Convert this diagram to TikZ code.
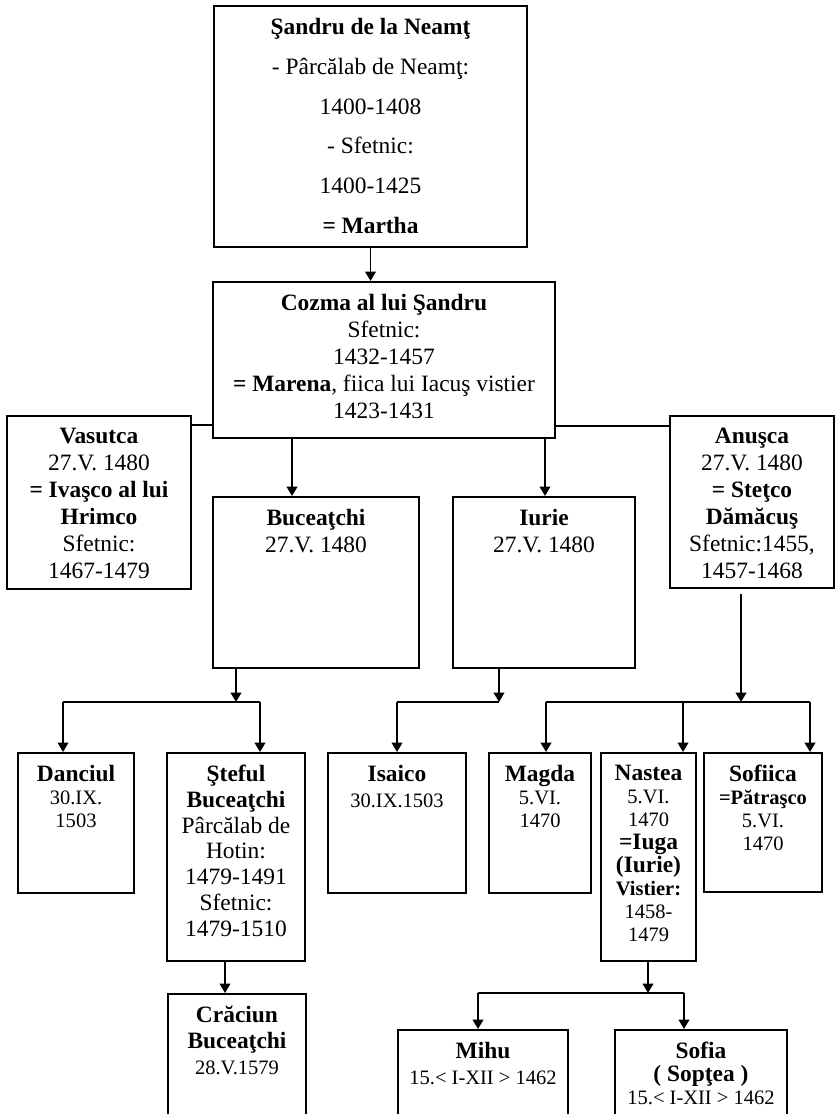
\documentclass[tikz,border=0pt]{standalone}
\usepackage{fontspec}
\setmainfont{Liberation Serif}
\usetikzlibrary{arrows.meta, positioning, fit, calc}
\newcommand{\smtxt}[1]{{\fontsize{17.5}{19}\selectfont #1}}

\begin{document}
\begin{tikzpicture}[x=0.03cm, y=-0.03cm,
        every node/.style={font=\fontsize{20}{23}\selectfont},
        box/.style={draw, line width=1.7pt, inner sep=0pt},
        txt/.style={align=center, anchor=north, inner sep=0pt, yshift=-11pt},
        tight/.style={font=\fontsize{20}{19.6}\selectfont},
        mid/.style={font=\fontsize{20}{22}\selectfont},
        ln/.style={line width=1.7pt},
        arr/.style={line width=1.7pt, -{Triangle[width=9pt,length=8pt]}}]
        \useasboundingbox (0,0) rectangle (836,1114);
        \clip (0,0) rectangle (836,1114);

        \node[box, fit={(214,6) (527,247)}] (sandru) {};
        \node[txt, font=\fontsize{20}{34}\selectfont] (sandruT) at (sandru.north)
            {\textbf{Şandru de la Neamţ}\\- Pârcălab de Neamţ:\\1400-1408\\- Sfetnic:\\1400-1425\\\textbf{= Martha}};

        \node[box, fit={(213,282) (555,438)}] (cozma) {};
        \node[txt] (cozmaT) at (cozma.north)
            {\textbf{Cozma al lui Şandru}\\Sfetnic:\\1432-1457\\\textbf{= Marena}, fiica lui Iacuş vistier\\1423-1431};

        \node[box, fit={(7,416) (191,589)}] (vasutca) {};
        \node[txt] (vasutcaT) at (vasutca.north)
            {\textbf{Vasutca}\\27.V. 1480\\\textbf{= Ivaşco al lui}\\\textbf{Hrimco}\\Sfetnic:\\1467-1479};

        \node[box, fit={(670,416) (834,588)}] (anusca) {};
        \node[txt] (anuscaT) at (anusca.north)
            {\textbf{Anuşca}\\27.V. 1480\\\textbf{= Steţco}\\\textbf{Dămăcuş}\\Sfetnic:1455,\\1457-1468};

        \node[box, fit={(213,497) (419,668)}] (bucea) {};
        \node[txt] (buceaT) at (bucea.north) {\textbf{Buceaţchi}\\27.V. 1480};

        \node[box, fit={(453,497) (635,668)}] (iurie) {};
        \node[txt] (iurieT) at (iurie.north) {\textbf{Iurie}\\27.V. 1480};

        \node[box, fit={(18,753) (134,893)}] (danciul) {};
        \node[txt, tight] (danciulT) at (danciul.north) {\textbf{Danciul}\\\smtxt{30.IX.}\\\smtxt{1503}};

        \node[box, fit={(167,753) (305,961)}] (steful) {};
        \node[txt, mid] (stefulT) at (steful.north)
            {\textbf{Şteful}\\\textbf{Buceaţchi}\\Pârcălab de\\Hotin:\\1479-1491\\Sfetnic:\\1479-1510};

        \node[box, fit={(168,994) (306,1140)}] (craciun) {};
        \node[txt, mid] (craciunT) at (craciun.north) {\textbf{Crăciun}\\\textbf{Buceaţchi}\\\smtxt{28.V.1579}};

        \node[box, fit={(328,753) (466,893)}] (isaico) {};
        \node[txt, mid] (isaicoT) at (isaico.north) {\textbf{Isaico}\\\smtxt{30.IX.1503}};

        \node[box, fit={(489,753) (591,893)}] (magda) {};
        \node[txt, tight] (magdaT) at (magda.north) {\textbf{Magda}\\\smtxt{5.VI.}\\\smtxt{1470}};

        \node[box, fit={(601,753) (696,961)}] (nastea) {};
        \node[txt, tight] (nasteaT) at (nastea.north)
            {\textbf{Nastea}\\\smtxt{5.VI.}\\\smtxt{1470}\\\textbf{=Iuga}\\\textbf{(Iurie)}\\\smtxt{\textbf{Vistier:}}\\\smtxt{1458-}\\\smtxt{1479}};

        \node[box, fit={(704,753) (822,892)}] (sofiica) {};
        \node[txt, tight] (sofiicaT) at (sofiica.north)
            {\textbf{Sofiica}\\\smtxt{\textbf{=Pătraşco}}\\\smtxt{5.VI.}\\\smtxt{1470}};

        \node[box, fit={(398,1030) (568,1140)}] (mihu) {};
        \node[txt, mid] (mihuT) at (mihu.north) {\textbf{Mihu}\\\smtxt{15.< I-XII > 1462}};

        \node[box, fit={(615,1030) (787,1140)}] (sofia) {};
        \node[txt, tight] (sofiaT) at (sofia.north) {\textbf{Sofia}\\\textbf{( Sopţea )}\\\smtxt{15.< I-XII > 1462}};

        \draw[arr] (sandru.south) -- (sandru.south |- cozma.north);
        \draw[ln] ($(cozma.south west)+(0,-14)$) coordinate (cv) -- (cv -| vasutca.east);
        \draw[ln] ($(cozma.south east)+(0,-13)$) coordinate (ca) -- (ca -| anusca.west);
        \draw[arr] ($(cozma.south west)+(80,0)$) coordinate (cb) -- (cb |- bucea.north);
        \draw[arr] ($(cozma.south east)+(-11,0)$) coordinate (ci) -- (ci |- iurie.north);

        \coordinate (b1) at (236,702);
        \coordinate (b1l) at (63,702);
        \coordinate (b1r) at (260,702);
        \draw[arr] (bucea.south -| b1) -- (b1);
        \draw[ln] (b1l) -- (b1r);
        \draw[arr] (b1l) -- (b1l |- danciul.north);
        \draw[arr] (b1r) -- (b1r |- steful.north);

        \coordinate (b2) at (499,702);
        \coordinate (b2l) at (397,702);
        \draw[arr] (iurie.south -| b2) -- (b2);
        \draw[ln] (b2l) -- (b2);
        \draw[arr] (b2l) -- (b2l |- isaico.north);

        \coordinate (b3) at (741,702);
        \coordinate (b3l) at (546,702);
        \coordinate (b3m) at (683,702);
        \coordinate (b3r) at (810,702);
        \draw[arr] ([yshift=-4pt]anusca.south -| b3) -- (b3);
        \draw[ln] (b3l) -- (b3r);
        \draw[arr] (b3l) -- (b3l |- magda.north);
        \draw[arr] (b3m) -- (b3m |- nastea.north);
        \draw[arr] (b3r) -- (b3r |- sofiica.north);

        \coordinate (b4) at (225,975);
        \draw[arr] (steful.south -| b4) -- (craciun.north -| b4);

        \coordinate (b5) at (648,993);
        \coordinate (b5l) at (478,993);
        \coordinate (b5r) at (684,993);
        \draw[arr] (nastea.south -| b5) -- (b5);
        \draw[ln] (b5l) -- (b5r);
        \draw[arr] (b5l) -- (b5l |- mihu.north);
        \draw[arr] (b5r) -- (b5r |- sofia.north);
    \end{tikzpicture}
\end{document}
